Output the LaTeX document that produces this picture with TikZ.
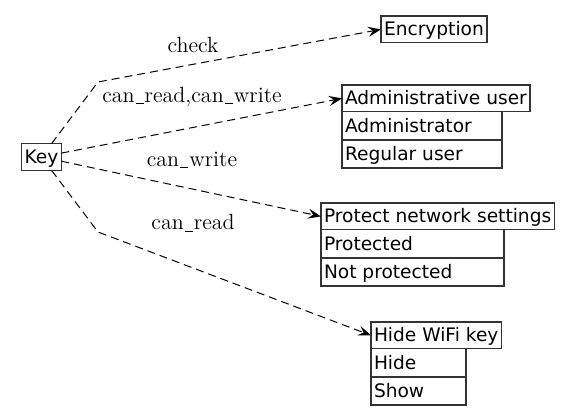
\documentclass[tikz,border=0pt]{standalone}
\usepackage{fontspec}
\setsansfont{DejaVu Sans}
\usetikzlibrary{arrows.meta}
\usetikzlibrary{positioning}
\usetikzlibrary{shapes.multipart}

\tikzset{
  attr/.style={draw=black!80, line width=.7pt, outer sep=0pt, fill=white, font=\sffamily\fontsize{9.3}{11}\selectfont, inner xsep=1.5pt, inner ysep=0pt},
  vals/.style={attr, rectangle split, rectangle split parts=2, rectangle split part align=left},
  link/.style={black, line width=.5pt, dash pattern=on 4pt off 2.5pt, ->, >={Stealth[length=6.5pt,width=5pt,inset=2.5pt]}},
  lbl/.style={font=\fontsize{11}{13}\selectfont}
}
\newcommand{\rowstrut}{\rule[-3.6pt]{0pt}{13.4pt}}
\newcommand{\ulbar}{\kern.05em\rule[-.15ex]{.36em}{.4pt}\kern.05em}

\begin{document}
\begin{tikzpicture} [x=0.5pt, y=-0.5pt]
\useasboundingbox (0,0) rectangle (569,415);
% attributes
\node[attr] (key) at (41.5,157) {\rowstrut Key};
\node[attr, anchor=north west] (enc) at (381,16) {\rowstrut Encryption};
\node[attr, anchor=north west] (adm) at (342,85) {\rowstrut Administrative user};
\node[vals, minimum width=80pt, below=0pt of adm.south west, anchor=north west] (admvals) {\rowstrut Administrator \nodepart{two}\rowstrut Regular user};
\node[attr, anchor=north west] (prot) at (321,203) {\rowstrut Protect network settings};
\node[vals, minimum width=91.5pt, below=0pt of prot.south west, anchor=north west] (protvals) {\rowstrut Protected \nodepart{two}\rowstrut Not protected};
\node[attr, anchor=north west] (hide) at (371,322) {\rowstrut Hide WiFi key};
\node[vals, minimum width=47.5pt, below=0pt of hide.south west, anchor=north west] (hidevals) {\rowstrut Hide \nodepart{two}\rowstrut Show};
% links
\coordinate (bendup) at (98,82);
\coordinate (benddown) at (98,232);
\draw[link] (key) -- (bendup) -- (enc.west);
\draw[link] (key) -- (adm.west);
\draw[link] (key) -- (prot.west);
\draw[link] (key) -- (benddown) -- (hide.west);
\node[lbl] (lcheck) at (193,45) {check};
\node[lbl] (lreadwrite) at (192,97) {can\ulbar read,can\ulbar write};
\node[lbl] (lwrite) at (192,160) {can\ulbar write};
\node[lbl] (lread) at (193,223) {can\ulbar read};
\end{tikzpicture}
\end{document}
